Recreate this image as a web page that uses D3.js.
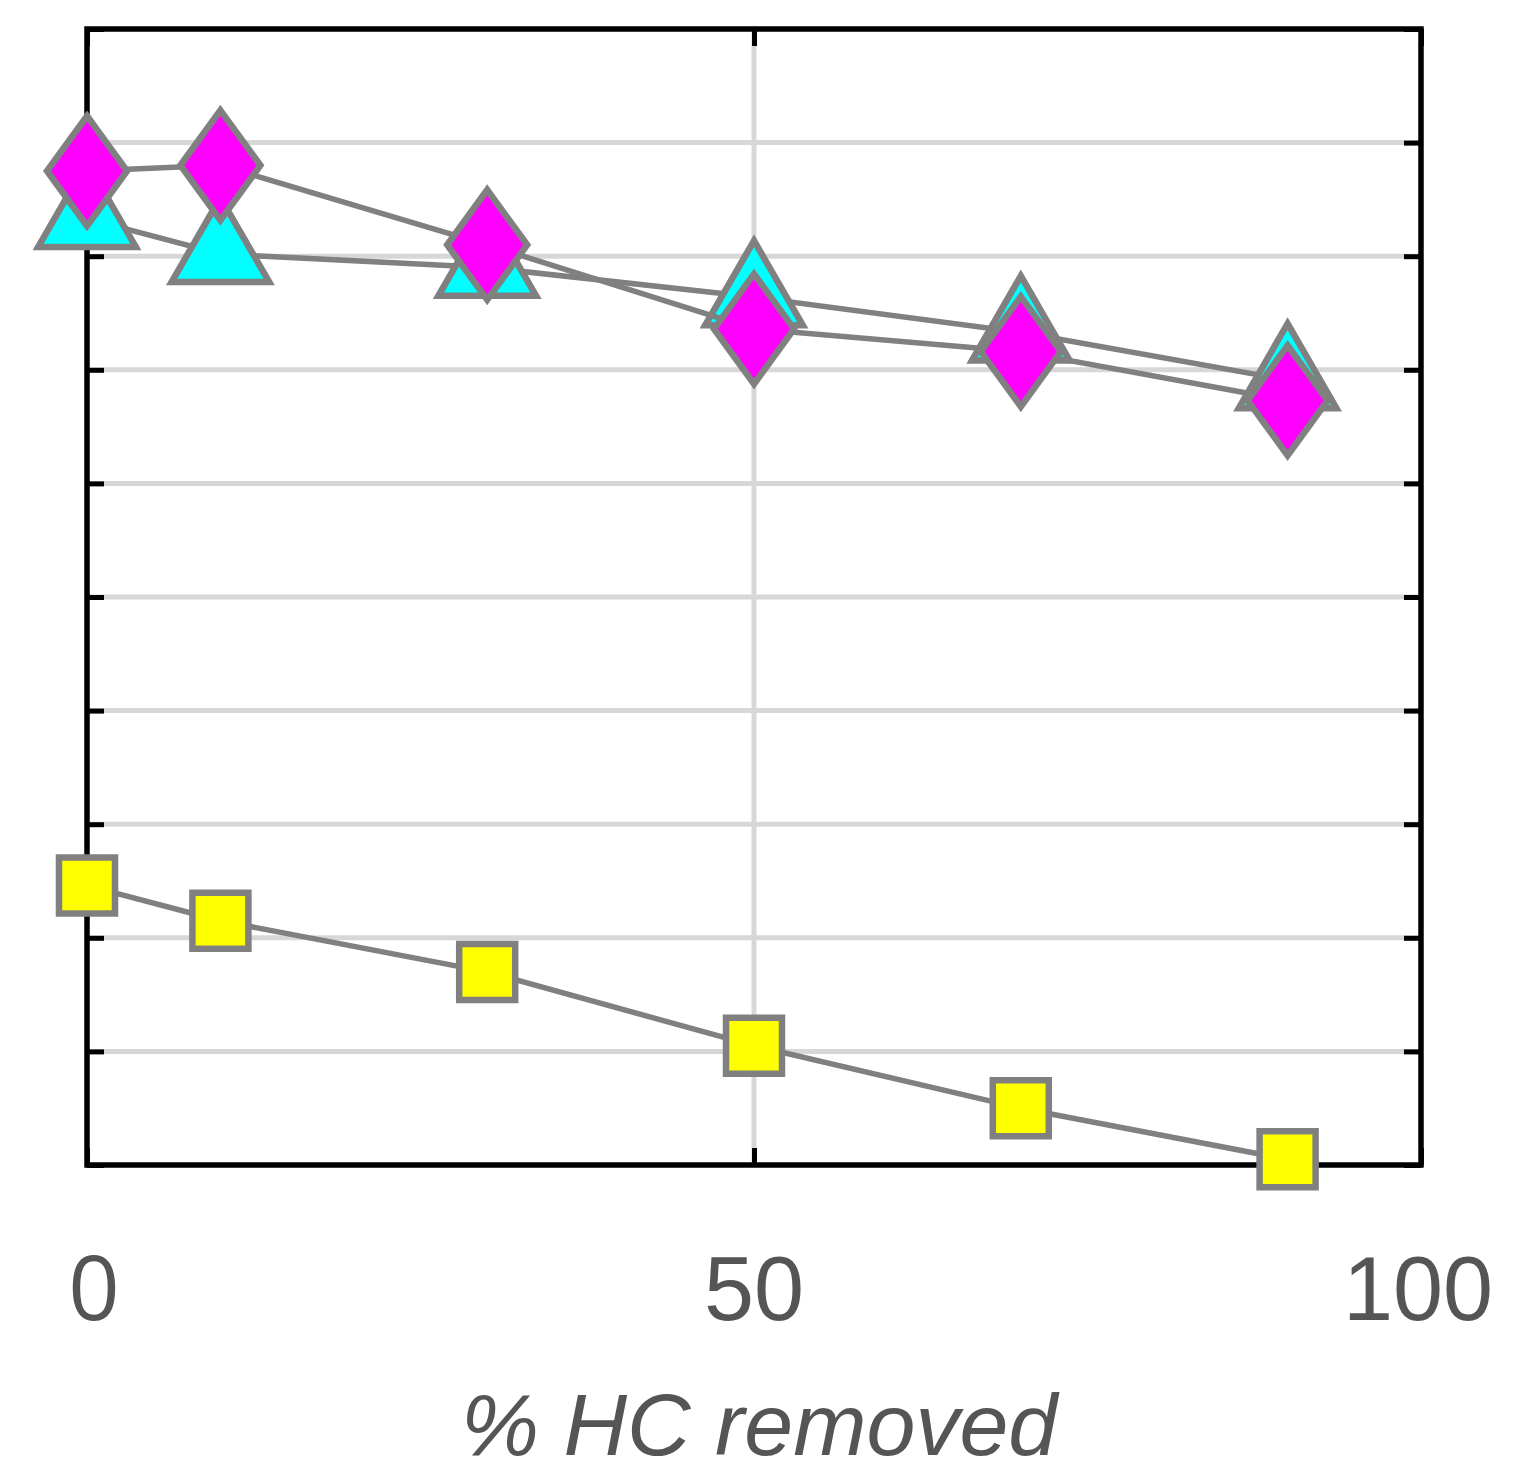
<!DOCTYPE html>
<html>
<head>
<meta charset="utf-8">
<script src="https://cdn.jsdelivr.net/npm/d3@7"></script>
<style>
html,body{margin:0;padding:0;background:#fff;}
svg{display:block;}
</style>
</head>
<body>
<svg id="chart" width="1536" height="1467"></svg>
<script>
// ---- data ----
const xValues = [0, 10, 30, 50, 70, 90];
const cyanValues = [8.33, 8.02, 7.90, 7.64, 7.33, 6.91];
const magentaValues = [8.75, 8.80, 8.10, 7.36, 7.16, 6.73];
const yellowValues = [2.46, 2.15, 1.70, 1.05, 0.50, 0.05];
const xTicks = [0, 50, 100];
const yTicks = [0, 1, 2, 3, 4, 5, 6, 7, 8, 9, 10];
const xGrid = [50];
const yGrid = [1, 2, 3, 4, 5, 6, 7, 8, 9];
const xLabel = "% HC removed";

// ---- layout ----
const L = 87, R = 1421, T = 29, B = 1165;
const svg = d3.select("#chart");
const x = d3.scaleLinear().domain([0, 100]).range([L, R]);
const y = d3.scaleLinear().domain([0, 10]).range([B, T]);

const gridColor = "#d7d7d7";
const markerStroke = "#808080";

// gridlines
svg.append("g").selectAll("line").data(yGrid).join("line")
  .attr("x1", L).attr("x2", R)
  .attr("y1", d => y(d)).attr("y2", d => y(d))
  .attr("stroke", gridColor).attr("stroke-width", 5);
svg.append("g").selectAll("line").data(xGrid).join("line")
  .attr("x1", d => x(d)).attr("x2", d => x(d))
  .attr("y1", T).attr("y2", B)
  .attr("stroke", gridColor).attr("stroke-width", 5);

// axes (box with inward ticks)
const tickLen = 17;
const axisStyle = g => {
  g.select(".domain").remove();
  g.selectAll(".tick line").attr("stroke", "#000").attr("stroke-width", 5);
  g.selectAll(".tick text").remove();
};
svg.append("g").attr("transform", `translate(0,${B})`)
  .call(d3.axisBottom(x).tickValues(xTicks).tickSizeInner(-tickLen).tickSizeOuter(0)).call(axisStyle);
svg.append("g").attr("transform", `translate(0,${T})`)
  .call(d3.axisTop(x).tickValues(xTicks).tickSizeInner(-tickLen).tickSizeOuter(0)).call(axisStyle);
svg.append("g").attr("transform", `translate(${L},0)`)
  .call(d3.axisLeft(y).tickValues(yTicks).tickSizeInner(-tickLen).tickSizeOuter(0)).call(axisStyle);
svg.append("g").attr("transform", `translate(${R},0)`)
  .call(d3.axisRight(y).tickValues(yTicks).tickSizeInner(-tickLen).tickSizeOuter(0)).call(axisStyle);

svg.append("rect")
  .attr("x", L).attr("y", T).attr("width", R - L).attr("height", B - T)
  .attr("fill", "none").attr("stroke", "#000").attr("stroke-width", 5.5);

// tick labels
svg.append("g").selectAll("text").data(xTicks).join("text")
  .attr("x", d => x(d) + (d === 0 ? 7 : (d === 100 ? -3 : 0)))
  .attr("y", 1320)
  .attr("text-anchor", "middle")
  .attr("font-family", d => d === 0 ? "'Open Sans', sans-serif" : "'Liberation Sans', Arial, sans-serif")
  .attr("font-size", 90)
  .attr("fill", "#555555")
  .text(d => d);

// axis label
svg.append("text")
  .attr("x", 759).attr("y", 1455)
  .attr("text-anchor", "middle")
  .attr("font-family", "'Liberation Sans', Arial, sans-serif")
  .attr("font-style", "italic")
  .attr("font-size", 88)
  .attr("fill", "#555555")
  .text(xLabel);

// custom diamond symbol
const diamondSym = {
  draw(ctx, size) {
    const hw = 40, hh = 55;
    ctx.moveTo(0, -hh); ctx.lineTo(hw, 0); ctx.lineTo(0, hh); ctx.lineTo(-hw, 0); ctx.closePath();
  }
};

const line = d3.line().x(d => x(d[0])).y(d => y(d[1]));

const series = [
  { vals: yellowValues, color: "#ffff00", sym: d3.symbolSquare, size: 3136 },
  { vals: cyanValues, color: "#00ffff", sym: d3.symbolTriangle, size: 4130 },
  { vals: magentaValues, color: "#ff00ff", sym: diamondSym, size: 1 }
];

series.forEach(s => {
  const pts = xValues.map((xv, i) => [xv, s.vals[i]]);
  const g = svg.append("g");
  g.append("path").attr("d", line(pts))
    .attr("fill", "none").attr("stroke", markerStroke).attr("stroke-width", 5.5)
    .attr("stroke-linejoin", "round");
  g.selectAll("path.m").data(pts).join("path").attr("class", "m")
    .attr("transform", d => `translate(${x(d[0])},${y(d[1])})`)
    .attr("d", d3.symbol().type(s.sym).size(s.size)())
    .attr("fill", s.color).attr("stroke", markerStroke).attr("stroke-width", 6.5)
    .attr("stroke-linejoin", "miter");
});
</script>
</body>
</html>
